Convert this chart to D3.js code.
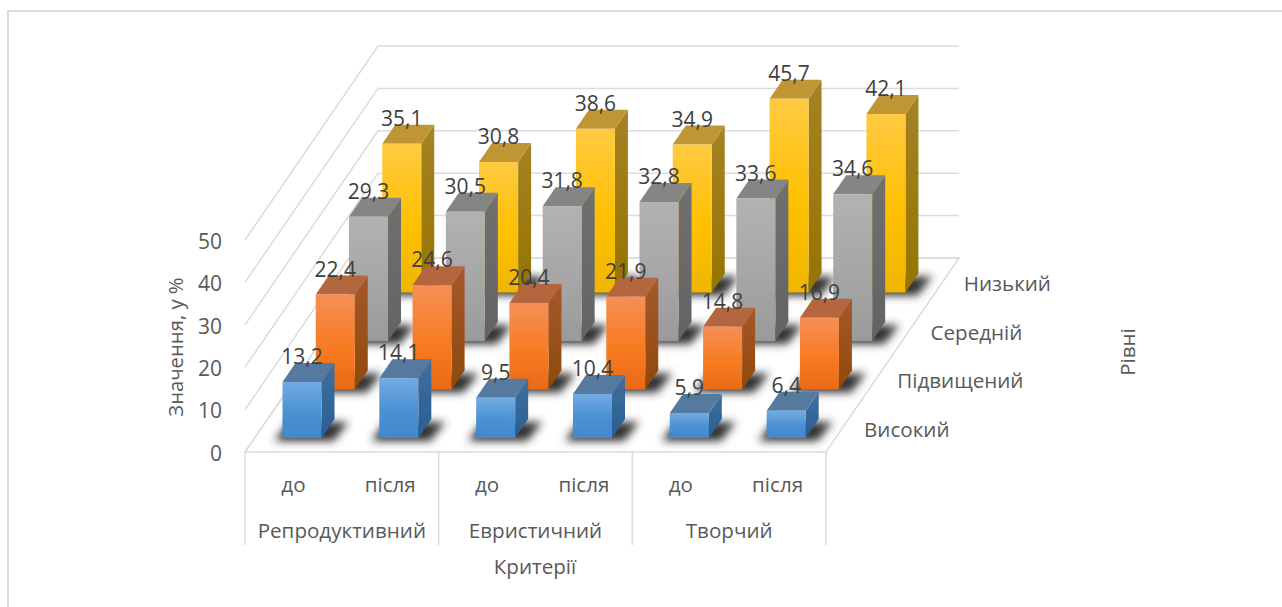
<!DOCTYPE html>
<html><head><meta charset="utf-8">
<script src="https://cdn.jsdelivr.net/npm/d3@7"></script>
<style>html,body{margin:0;padding:0;background:#fff;overflow:hidden}svg{display:block}text{font-family:"Open Sans",sans-serif}</style>
</head><body><svg id="c" width="1282" height="607"></svg>
<script>
const categories=["до","після","до","після","до","після"];
const groups=["Репродуктивний","Евристичний","Творчий"];
const levels=["Високий","Підвищений","Середній","Низький"];
const vysokyi=[13.2,14.1,9.5,10.4,5.9,6.4];
const pidvyshchenyi=[22.4,24.6,20.4,21.9,14.8,16.9];
const serednii=[29.3,30.5,31.8,32.8,33.6,34.6];
const nyzkyi=[35.1,30.8,38.6,34.9,45.7,42.1];
const yTicks=[0,10,20,30,40,50];
const seriesValues=[vysokyi,pidvyshchenyi,serednii,nyzkyi];
const palette=[
 {f:["#72abe3","#4a90d2","#4288cc"],s:["#3f6f9f","#295e92"],t:"#56799f"},
 {f:["#f58f56","#f87b22","#ea6a16"],s:["#a6582a","#8f490c"],t:"#b4663e"},
 {f:["#b2b2b2","#a6a6a6","#9a9a9a"],s:["#707070","#636363"],t:"#858585"},
 {f:["#ffca42","#ffc000","#efb600"],s:["#a58224","#967400"],t:"#bf9535"}];

const svg=d3.select("#c");
const x0=245,x1=826,y0=452,depthX=133,depthY=-194,gridCol="#dcdcdc",textCol="#595959",labelCol="#404040",fs=20.6;
const x=d3.scaleBand().domain(d3.range(categories.length)).range([x0,x1]);
const barW=39,barDX=13,barDY=-19;
const y=d3.scaleLinear().domain([0,50]).range([0,-212]);
const depth=d3.scaleLinear().domain([0,4]).range([0,1]);
const pts=a=>a.map(p=>p.join(",")).join(" ");
const barLeft=(i,si)=>x(i)+37.5+depthX*depth(si);
const barBottom=si=>y0-14+depthY*depth(si);

const defs=svg.append("defs");
defs.append("filter").attr("id","sh").attr("x","-40%").attr("y","-80%").attr("width","180%").attr("height","260%")
  .append("feGaussianBlur").attr("stdDeviation",4);
palette.forEach((p,i)=>{
  const g=defs.append("linearGradient").attr("id","f"+i).attr("x1",0).attr("y1",0).attr("x2",0).attr("y2",1);
  p.f.forEach((c,k)=>g.append("stop").attr("offset",[0,.55,1][k]).attr("stop-color",c));
  const s=defs.append("linearGradient").attr("id","s"+i).attr("x1",0).attr("y1",0).attr("x2",0).attr("y2",1);
  p.s.forEach((c,k)=>s.append("stop").attr("offset",k).attr("stop-color",c));
});

svg.append("path").attr("d","M8,607V11H1282").attr("fill","none").attr("stroke",gridCol).attr("stroke-width",2);

const wall=svg.append("g").attr("fill","none").attr("stroke",gridCol).attr("stroke-width",1.5);
yTicks.forEach(t=>{
  const h=y(t);
  wall.append("polyline").attr("points",pts([[x0,y0+h],[x0+depthX,y0+depthY+h],[x1+depthX,y0+depthY+h]]));
});
wall.append("polygon").attr("points",pts([[x0,y0],[x1,y0],[x1+depthX,y0+depthY],[x0+depthX,y0+depthY]]));
[0,2,4,6].forEach(i=>{
  const px=i<6?x(i):x1;
  wall.append("line").attr("x1",px).attr("x2",px).attr("y1",y0).attr("y2",545);
});

d3.range(3,-1,-1).forEach(si=>{
  const g=svg.append("g");
  seriesValues[si].forEach((v,i)=>{
    const left=barLeft(i,si),bottom=barBottom(si),top=bottom+y(v);
    g.append("polygon").attr("points",pts([[left-8,bottom+3],[left+barW+12,bottom+3],[left+barW+27,bottom-16],[left+6,bottom-16]]))
      .attr("fill","#303030").attr("filter","url(#sh)");
    g.append("polygon").attr("points",pts([[left+barW,top],[left+barW+barDX,top+barDY],[left+barW+barDX,bottom+barDY],[left+barW,bottom]])).attr("fill",`url(#s${si})`);
    g.append("polygon").attr("points",pts([[left,top],[left+barW,top],[left+barW+barDX,top+barDY],[left+barDX,top+barDY]])).attr("fill",palette[si].t);
    g.append("rect").attr("x",left).attr("y",top).attr("width",barW).attr("height",bottom-top).attr("fill",`url(#f${si})`);
  });
});
d3.range(3,-1,-1).forEach(si=>{
  seriesValues[si].forEach((v,i)=>{
    svg.append("text").attr("x",barLeft(i,si)+barW/2).attr("y",barBottom(si)+y(v)-18).attr("text-anchor","middle")
      .attr("font-size",21).attr("fill",labelCol).text(String(v).replace(".",","));
  });
});

const yAxisScale=d3.scaleLinear().domain([0,50]).range([y0,y0-212]);
const ax=svg.append("g").attr("transform","translate(222,1.5)").call(d3.axisLeft(yAxisScale).tickValues(yTicks).tickSize(0).tickPadding(0));
ax.select(".domain").remove();
ax.selectAll("text").attr("font-size",21).attr("font-family",'"Open Sans",sans-serif').attr("fill",textCol);

const tx=(s,px,py,o={})=>svg.append("text").attr("x",px).attr("y",py).attr("text-anchor",o.a||"middle").attr("dominant-baseline","central")
  .attr("font-size",o.s||fs).attr("fill",textCol).attr("transform",o.r?`rotate(${o.r} ${px} ${py})`:null).text(s);
categories.forEach((c,i)=>tx(c,x(i)+x.bandwidth()/2,484));
groups.forEach((c,i)=>tx(c,x(i*2)+x.bandwidth(),530));
levels.forEach((l,i)=>tx(l,864+depthX*depth(i),429-48.7*i,{a:"start"}));
tx("Критерії",535,566);
tx("Значення, у %",175,347,{r:-90,s:20.3});
tx("Рівні",1127,352,{r:-90});
</script></body></html>
